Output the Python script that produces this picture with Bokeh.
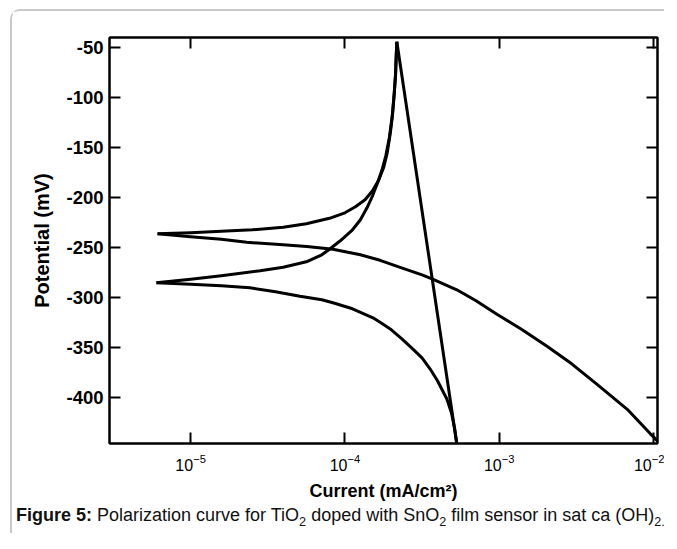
from bokeh.plotting import figure
from bokeh.models import Range1d, FixedTicker, LinearAxis, LogAxis, Div
from bokeh.layouts import column
from bokeh.embed import file_html
from bokeh.resources import INLINE

# ---- data (current in mA/cm^2, potential in mV) ----
# first scan, starting near -236 mV
scan1_up_i = [6.1e-6, 1.0e-5, 1.58e-5, 2.51e-5, 3.98e-5, 5.62e-5, 7.94e-5, 1.0e-4, 1.17e-4, 1.35e-4,
              1.51e-4, 1.66e-4, 1.78e-4, 1.88e-4, 1.97e-4, 2.04e-4, 2.09e-4, 2.13e-4, 2.15e-4, 2.17e-4]
scan1_up_e = [-236, -235, -233.5, -232, -229.5, -226, -220.5, -215, -209, -202,
              -193, -182, -170, -155, -135, -115, -95, -75, -58, -44]

scan1_dn_i = [6.1e-6, 1.0e-5, 1.58e-5, 2.31e-5, 3.98e-5, 5.66e-5, 8.36e-5, 1.26e-4, 1.69e-4, 2.28e-4,
              3.16e-4, 3.67e-4, 5.31e-4, 7.08e-4, 9.66e-4, 1.41e-3, 2.04e-3, 2.95e-3, 4.31e-3, 6.76e-3,
              9.55e-3, 1.0e-2, 1.1e-2]
scan1_dn_e = [-236, -239, -241.5, -244.5, -247, -248.7, -251.5, -257, -262.5, -269.5,
              -277, -281, -292, -303, -316.5, -332, -348.5, -366, -386.5, -411.5,
              -436, -439, -446]

# second scan, starting near -285 mV
scan2_up_i = [6.0e-6, 1.0e-5, 1.58e-5, 2.82e-5, 3.98e-5, 5.62e-5, 7.08e-5, 7.94e-5, 9.33e-5, 1.12e-4,
              1.26e-4, 1.39e-4, 1.51e-4, 1.62e-4, 1.74e-4, 1.84e-4, 1.94e-4, 2.02e-4, 2.08e-4, 2.13e-4,
              2.15e-4, 2.17e-4]
scan2_up_e = [-285, -281.5, -278, -273, -269.5, -264, -257, -251.5, -243, -232,
              -222, -210, -198, -186, -172, -158, -140, -120, -98, -77,
              -58, -44]

scan2_dn_i = [6.0e-6, 1.0e-5, 1.58e-5, 2.42e-5, 3.55e-5, 5.11e-5, 7.08e-5, 8.36e-5, 1.12e-4, 1.52e-4,
              1.69e-4, 2.0e-4, 2.34e-4, 2.77e-4, 3.16e-4, 3.56e-4, 3.98e-4, 4.57e-4, 4.9e-4, 5.13e-4,
              5.31e-4]
scan2_dn_e = [-285, -286.5, -288, -290, -294, -298.5, -302, -305, -311, -320,
              -324.5, -332, -341, -351.5, -360, -371, -383, -401, -415, -430,
              -446]

spike_i = [2.17e-4, 5.31e-4]
spike_e = [-44, -446]

x_ticks = [1e-5, 1e-4, 1e-3, 1e-2]
y_ticks = [-400, -350, -300, -250, -200, -150, -100, -50]
y_tick_labels = ["-400", "-350", "-300", "-250", "-200", "-150", "-100", "-50"]

FONT = "Liberation Sans"

p = figure(width=652, height=492, x_axis_type="log",
           x_range=Range1d(10 ** -5.526, 10 ** -1.974),
           y_range=Range1d(-445.7, -39.7),
           output_backend="svg", toolbar_location=None,
           min_border_left=97, min_border_right=7,
           min_border_top=26, min_border_bottom=60)
p.grid.visible = False
p.outline_line_color = "black"
p.outline_line_width = 2
p.background_fill_color = "white"
p.border_fill_color = "white"

for xs, ys in [(scan1_up_i, scan1_up_e), (scan1_dn_i, scan1_dn_e),
               (scan2_up_i, scan2_up_e), (scan2_dn_i, scan2_dn_e),
               (spike_i, spike_e)]:
    p.line(xs, ys, line_color="black", line_width=3, line_join="round")


def style_axis(ax):
    ax.axis_line_width = 2
    ax.axis_line_color = "black"
    ax.major_tick_line_width = 2
    ax.major_tick_line_color = "black"
    ax.major_tick_in = 11
    ax.major_tick_out = 0
    ax.minor_tick_in = 0
    ax.minor_tick_out = 0
    ax.major_label_text_color = "black"
    ax.axis_label_text_color = "black"


xa = p.xaxis[0]
xa.ticker = FixedTicker(ticks=x_ticks, minor_ticks=[])
style_axis(xa)
xa.major_label_text_font = FONT
xa.major_label_text_font_size = "16px"
xa.major_label_standoff = 10
xa.axis_label = "Current (mA/cm\u00b2)"
xa.axis_label_text_font = FONT
xa.axis_label_text_font_style = "bold"
xa.axis_label_text_font_size = "18px"
xa.axis_label_standoff = 7

ya = p.yaxis[0]
ya.ticker = FixedTicker(ticks=y_ticks, minor_ticks=[])
ya.major_label_overrides = {t: lab for t, lab in zip(y_ticks, y_tick_labels)}
style_axis(ya)
ya.major_label_text_font = FONT
ya.major_label_text_font_style = "bold"
ya.major_label_text_font_size = "18.5px"
ya.major_label_standoff = 6
ya.axis_label = "Potential (mV)"
ya.axis_label_text_font = FONT
ya.axis_label_text_font_style = "bold"
ya.axis_label_text_font_size = "20px"
ya.axis_label_standoff = 10

ra = LinearAxis(ticker=FixedTicker(ticks=y_ticks, minor_ticks=[]),
                major_label_overrides={t: "" for t in y_ticks})
style_axis(ra)
ra.major_label_standoff = 0
p.add_layout(ra, "right")

ta = LogAxis(ticker=FixedTicker(ticks=x_ticks, minor_ticks=[]),
             major_label_overrides={t: "" for t in x_ticks})
style_axis(ta)
ta.major_label_standoff = 0
p.add_layout(ta, "above")

cap = Div(text="<b>Figure 5:</b> Polarization curve for TiO<sub style='font-size:0.7em'>2</sub> doped with "
               "SnO<sub style='font-size:0.7em'>2</sub> film sensor in sat ca "
               "(OH)<sub style='font-size:0.7em'>2.</sub>",
          width=648, height=30, margin=(0, 0, 0, 4),
          styles={"font-family": "Liberation Sans, Arial, sans-serif",
                  "font-size": "18px", "white-space": "nowrap", "color": "#111111"})

layout = column(p, cap, spacing=0, margin=(9, 0, 0, 10),
                styles={"border-top": "2px solid #c9c9c9",
                        "border-left": "2px solid #c9c9c9",
                        "border-top-left-radius": "10px"})

open("out.html", "w").write(file_html(layout, INLINE))
